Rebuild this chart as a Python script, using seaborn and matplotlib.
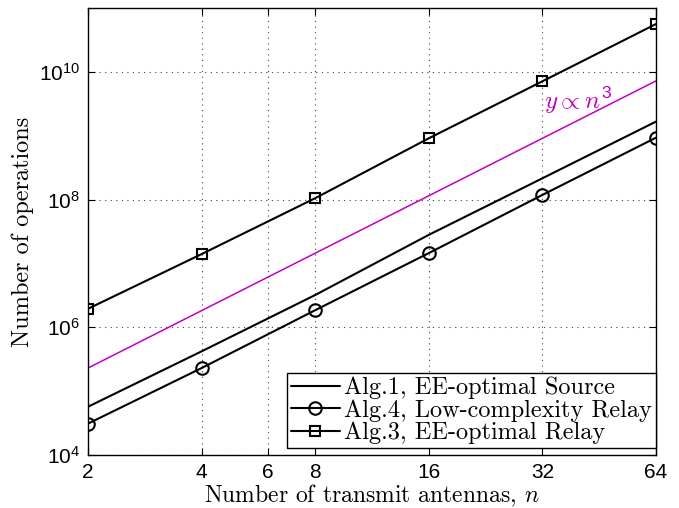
import numpy as np
import pandas as pd
import seaborn as sns
import matplotlib.pyplot as plt
from matplotlib.ticker import FixedLocator, FixedFormatter, LogFormatterSciNotation, NullLocator

# Data
n_antennas = [2, 4, 8, 16, 32, 64]
alg1_source = [5.7e4, 4.2e5, 3.2e6, 2.8e7, 2.15e8, 1.66e9]
alg4_lowcomp = [3.1e4, 2.3e5, 1.85e6, 1.45e7, 1.18e8, 9.3e8]
alg3_relay = [1.95e6, 1.4e7, 1.05e8, 9.1e8, 7.1e9, 5.6e10]
ref_n = [2, 64]
ref_cubic = [2.3e5, 7.2e9]

x_ticks = [2, 4, 6, 8, 16, 32, 64]
y_ticks = [1e4, 1e6, 1e8, 1e10]

sns.set_style("ticks")
plt.rcParams['mathtext.fontset'] = 'custom'
plt.rcParams['mathtext.rm'] = 'Liberation Sans'
plt.rcParams['mathtext.it'] = 'cmmi10'
plt.rcParams['font.family'] = ['Liberation Sans', 'DejaVu Sans']
plt.rcParams['text.color'] = 'black'
plt.rcParams['xtick.color'] = 'black'
plt.rcParams['ytick.color'] = 'black'
plt.rcParams['axes.labelcolor'] = 'black'

fig = plt.figure(figsize=(6.79, 5.08), dpi=100)
ax = fig.add_axes([0.1296, 0.1043, 0.8364, 0.8800])

# magenta reference line
sns.lineplot(x=ref_n, y=ref_cubic, ax=ax, color="#c000c0", lw=1.1)

series = [
    ("Alg.1, EE-optimal Source", alg1_source, None, 0),
    ("Alg.4, Low-complexity Relay", alg4_lowcomp, "o", 9),
    ("Alg.3, EE-optimal Relay", alg3_relay, "s", 6.5),
]
for name, vals, mk, ms in series:
    sns.lineplot(x=n_antennas, y=vals, ax=ax, color="black", lw=1.5,
                 marker=mk, markersize=ms, markerfacecolor="none",
                 markeredgecolor="black", markeredgewidth=1.5, label=name)

ax.set_xscale("log", base=2)
ax.set_yscale("log")
ax.set_xlim(2, 64)
ax.set_ylim(1e4, 1e11)
ax.xaxis.set_major_locator(FixedLocator(x_ticks))
ax.xaxis.set_major_formatter(FixedFormatter([str(t) for t in x_ticks]))
ax.xaxis.set_minor_locator(NullLocator())
ax.yaxis.set_major_locator(FixedLocator(y_ticks))
ax.yaxis.set_major_formatter(LogFormatterSciNotation())
ax.yaxis.set_minor_locator(NullLocator())

ax.tick_params(direction="in", length=5, width=0.8, top=True, right=True,
               labelsize=15, pad=6)
for sp in ax.spines.values():
    sp.set_linewidth(1.0)
    sp.set_color("black")
ax.grid(True, which="major", linestyle=(0, (1, 4)), color="#444444", lw=0.8)

ax.set_xlabel("Number of transmit antennas, $n$", fontfamily="cmr10", fontsize=17, labelpad=0)
ax.set_ylabel("Number of operations", fontfamily="cmr10", fontsize=17.5, labelpad=3)

ax.text(32.3, 2.6e9, r"$y \propto n^3$", color="#c000c0", fontsize=18)

leg = ax.legend(loc="lower right", bbox_to_anchor=(1.0, 0.016),
                prop={"family": "cmr10", "size": 17.5},
                frameon=True, fancybox=False, edgecolor="black", framealpha=1,
                handlelength=2.0, handletextpad=0.2, borderpad=0.15,
                labelspacing=0.0, borderaxespad=0.0)
leg.get_frame().set_linewidth(1.0)

fig.savefig("out.png", dpi=100)
